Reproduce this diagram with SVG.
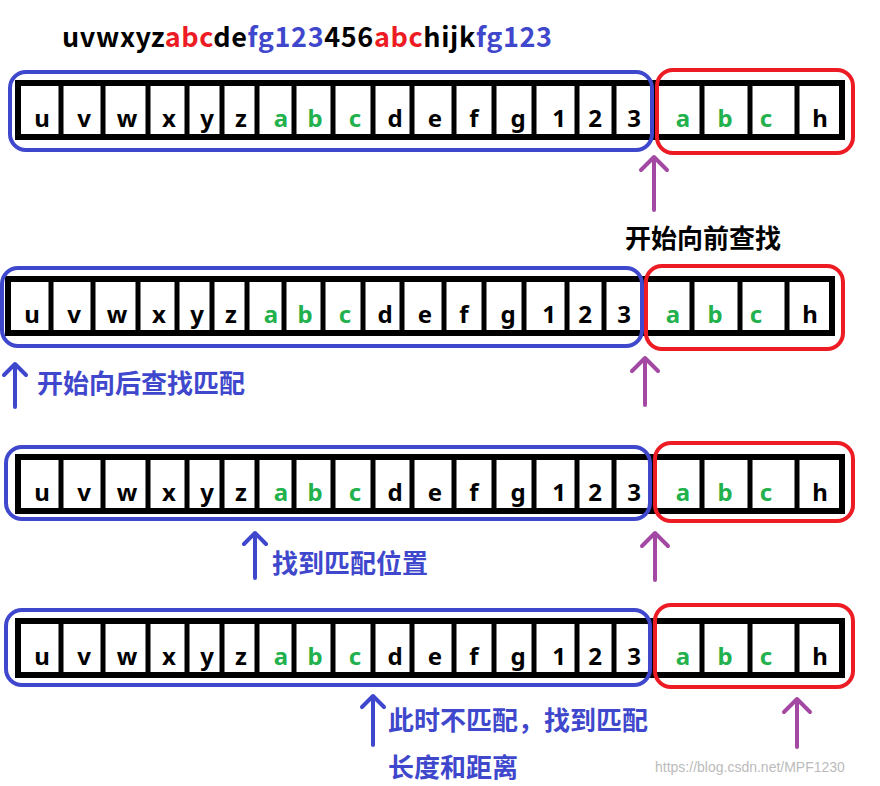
<svg xmlns="http://www.w3.org/2000/svg" width="880" height="786" viewBox="0 0 880 786">
<style>
.c{font-family:"Noto Sans","Noto Sans CJK SC",sans-serif;font-weight:bold;font-size:24px;text-anchor:middle;fill:#000}
.g{fill:#22b14c}
.bar{fill:#fff;stroke:#000;stroke-width:6}
.div{stroke:#000;stroke-width:5}
.bl{fill:none;stroke:#3f48cc;stroke-width:4}
.rd{fill:none;stroke:#ed1c24;stroke-width:4}
.t{font-family:"Noto Sans CJK SC","Noto Sans",sans-serif;font-weight:bold;font-size:26px}
.pa{stroke:#a349a4;stroke-width:4;fill:none;stroke-linecap:round;stroke-linejoin:round}
.ba{stroke:#3f48cc;stroke-width:4;fill:none;stroke-linecap:round;stroke-linejoin:round}
</style>
<defs>
<g id="row">
<rect class="bar" x="18" y="83" width="824" height="54"/>
<path class="div" d="M61 83V137M103 83V137M148 83V137M187 83V137M222 83V137M257 83V137M294 83V137M333 83V137M373 83V137M412 83V137M454 83V137M494 83V137M534 83V137M577 83V137M614 83V137M653 83V137M702 83V137M750 83V137M797 83V137"/>
<g class="c">
<text x="42" y="127">u</text><text x="84" y="127">v</text><text x="127" y="127">w</text><text x="169" y="127">x</text><text x="207" y="127">y</text><text x="241" y="127">z</text>
<text class="g" x="281" y="127">a</text><text class="g" x="315" y="127">b</text><text class="g" x="355" y="127">c</text>
<text x="395" y="127">d</text><text x="435" y="127">e</text><text x="474" y="127">f</text><text x="518" y="127">g</text><text x="559" y="127">1</text><text x="595" y="127">2</text><text x="634" y="127">3</text>
<text class="g" x="683" y="127">a</text><text class="g" x="725" y="127">b</text><text class="g" x="766" y="127">c</text><text x="820" y="127">h</text>
</g>
</g>
</defs>
<text class="t" x="62" y="47" textLength="490" style="font-size:27px"><tspan>uvwxyz</tspan><tspan fill="#ed1c24">abc</tspan><tspan>de</tspan><tspan fill="#3f48cc">fg123</tspan><tspan>456</tspan><tspan fill="#ed1c24">abc</tspan><tspan>hijk</tspan><tspan fill="#3f48cc">fg123</tspan></text>
<g id="row1">
<use href="#row"/>
<rect class="bl" x="10" y="72" width="642" height="78" rx="16"/>
<rect class="rd" x="657" y="70" width="196" height="83" rx="16"/>
</g>
<g id="row2" transform="translate(-10,196)">
<use href="#row"/>
<rect class="bl" x="12" y="72" width="640" height="78" rx="16"/>
<rect class="rd" x="656" y="70" width="197" height="83" rx="16"/>
</g>
<g id="row3" transform="translate(0,374)">
<use href="#row"/>
<rect class="bl" x="6" y="73" width="644" height="72" rx="16"/>
<rect class="rd" x="655" y="69" width="198" height="78" rx="16"/>
</g>
<g id="row4" transform="translate(0,538)">
<use href="#row"/>
<rect class="bl" x="6" y="72" width="644" height="75" rx="16"/>
<rect class="rd" x="655" y="67" width="198" height="82" rx="16"/>
</g>
<g id="connectors">
<path class="pa" d="M654 210V158M641 170L654 157L667 170"/>
<path class="pa" d="M645 405V358M632 371L645 358L658 371"/>
<path class="ba" d="M15 407V364M4 375L15 364L26 375"/>
<path class="pa" d="M655 580V533M642 546L655 533L668 546"/>
<path class="ba" d="M255 578V533M244 544L255 533L266 544"/>
<path class="pa" d="M797 747V699M784 712L797 699L810 712"/>
<path class="ba" d="M373 745V696M362 707L373 696L384 707"/>
</g>
<g id="labels" class="t">
<text x="625" y="248">开始向前查找</text>
<text x="37" y="393" fill="#3f48cc">开始向后查找匹配</text>
<text x="272" y="573" fill="#3f48cc">找到匹配位置</text>
<text x="388" y="730" fill="#3f48cc">此时不匹配，找到匹配</text>
<text x="388" y="777" fill="#3f48cc">长度和距离</text>
</g>
<text x="655" y="772" font-family="Liberation Sans, sans-serif" font-size="14" fill="#bbb">https://blog.csdn.net/MPF1230</text>
</svg>
